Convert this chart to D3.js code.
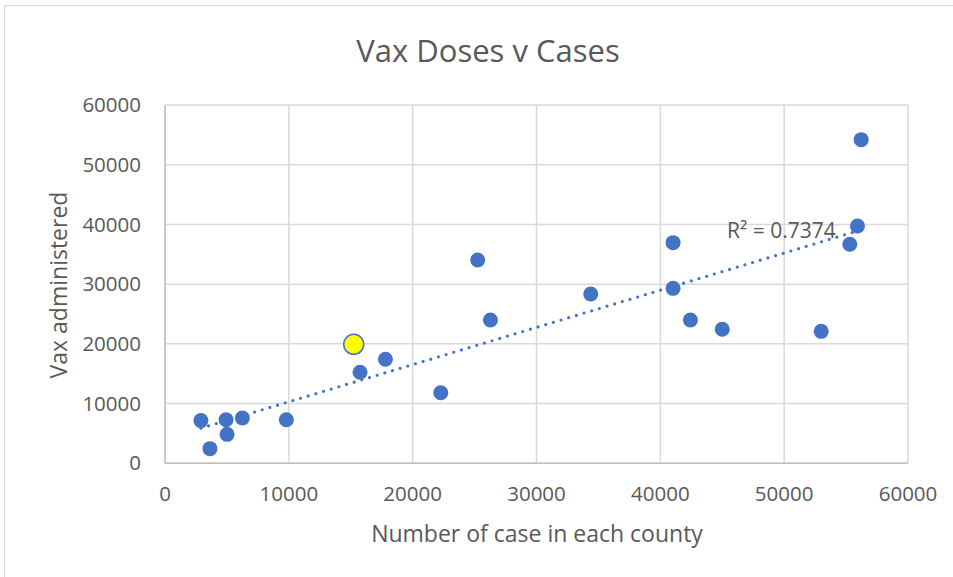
<!DOCTYPE html>
<html>
<head>
<meta charset="utf-8">
<script src="https://cdn.jsdelivr.net/npm/d3@7"></script>
<style>
  body { margin: 0; background: #fff; }
  svg text { font-family: "Open Sans", "Liberation Sans", sans-serif; fill: #595959; }
</style>
</head>
<body>
<div id="chart"></div>
<script>
// cases per county (x) and vaccine doses administered (y)
var cases = [2900, 3630, 4930, 5010, 6250, 9800, 15750, 17800, 22270, 25250,
             26280, 34380, 41030, 41030, 42430, 45000, 52990, 55300, 55920, 56220];
var vaxDoses = [7150, 2450, 7300, 4850, 7580, 7300, 15240, 17420, 11820, 34050,
                24000, 28350, 36950, 29300, 24000, 22440, 22100, 36670, 39730, 54200];
// the highlighted county
var highlightCase = [15240];
var highlightVax = [19930];

var xTicks = [0, 10000, 20000, 30000, 40000, 50000, 60000];
var yTicks = [0, 10000, 20000, 30000, 40000, 50000, 60000];

var titleText = 'Vax Doses v Cases';
var xTitle = 'Number of case in each county';
var yTitle = 'Vax administered';
var r2Label = 'R\u00b2 = 0.7374';

(function (d3) {
    var width = 953, height = 577,
        plot = { left: 165, right: 908, top: 105, bottom: 463.3 },
        blue = '#4472C4';

    var svg = d3.select('#chart').append('svg')
        .attr('width', width)
        .attr('height', height);

    // chart frame
    svg.append('rect')
        .attr('x', 4.5).attr('y', 5.5)
        .attr('width', width + 10).attr('height', height + 10)
        .attr('fill', '#fff')
        .attr('stroke', '#d9d9d9');

    var x = d3.scaleLinear().domain([0, 60000]).range([plot.left, plot.right]),
        y = d3.scaleLinear().domain([0, 60000]).range([plot.bottom, plot.top]);

    // gridlines
    svg.append('g').selectAll('line').data(xTicks).enter().append('line')
        .attr('x1', function (d) { return x(d); })
        .attr('x2', function (d) { return x(d); })
        .attr('y1', plot.top).attr('y2', plot.bottom)
        .attr('stroke', '#d9d9d9').attr('stroke-width', 1.5);
    svg.append('g').selectAll('line').data(yTicks).enter().append('line')
        .attr('y1', function (d) { return y(d); })
        .attr('y2', function (d) { return y(d); })
        .attr('x1', plot.left).attr('x2', plot.right)
        .attr('stroke', '#d9d9d9').attr('stroke-width', 1.5);

    // axis lines
    svg.append('line')
        .attr('x1', plot.left).attr('x2', plot.left)
        .attr('y1', plot.top).attr('y2', plot.bottom)
        .attr('stroke', '#bfbfbf').attr('stroke-width', 1.5);
    svg.append('line')
        .attr('x1', plot.left).attr('x2', plot.right)
        .attr('y1', plot.bottom).attr('y2', plot.bottom)
        .attr('stroke', '#bfbfbf').attr('stroke-width', 1.5);

    // tick labels
    svg.append('g').selectAll('text').data(yTicks).enter().append('text')
        .attr('x', 141)
        .attr('y', function (d) { return y(d); })
        .attr('dy', '0.35em')
        .attr('text-anchor', 'end')
        .style('font-size', '20.5px')
        .text(function (d) { return d; });
    svg.append('g').selectAll('text').data(xTicks).enter().append('text')
        .attr('x', function (d) { return x(d); })
        .attr('y', 501)
        .attr('text-anchor', 'middle')
        .style('font-size', '20.5px')
        .text(function (d) { return d; });

    // titles
    svg.append('text')
        .attr('x', 488).attr('y', 62)
        .attr('text-anchor', 'middle')
        .style('font-size', '31px')
        .text(titleText);
    svg.append('text')
        .attr('x', 537).attr('y', 542)
        .attr('text-anchor', 'middle')
        .style('font-size', '23px')
        .text(xTitle);
    svg.append('text')
        .attr('transform', 'translate(67,285) rotate(-90)')
        .attr('text-anchor', 'middle')
        .style('font-size', '23px')
        .text(yTitle);

    // least squares trendline
    var pts = cases.map(function (c, i) { return [c, vaxDoses[i]]; }),
        mx = d3.mean(pts, function (p) { return p[0]; }),
        my = d3.mean(pts, function (p) { return p[1]; }),
        sxy = d3.sum(pts, function (p) { return (p[0] - mx) * (p[1] - my); }),
        sxx = d3.sum(pts, function (p) { return (p[0] - mx) * (p[0] - mx); }),
        slope = sxy / sxx,
        icept = my - slope * mx,
        ext = d3.extent(cases);

    svg.append('line')
        .attr('x1', x(ext[0])).attr('y1', y(icept + slope * ext[0]))
        .attr('x2', x(ext[1])).attr('y2', y(icept + slope * ext[1]))
        .attr('stroke', blue)
        .attr('stroke-width', 3.2)
        .attr('stroke-linecap', 'round')
        .attr('stroke-dasharray', '0 8');

    // points
    svg.append('g').selectAll('circle').data(pts).enter().append('circle')
        .attr('cx', function (d) { return x(d[0]); })
        .attr('cy', function (d) { return y(d[1]); })
        .attr('r', 7.5)
        .attr('fill', blue);

    svg.append('g').selectAll('circle').data(highlightCase).enter().append('circle')
        .attr('cx', function (d) { return x(d); })
        .attr('cy', function (d, i) { return y(highlightVax[i]); })
        .attr('r', 10)
        .attr('fill', '#ffff00')
        .attr('stroke', blue)
        .attr('stroke-width', 1.5);

    svg.append('text')
        .attr('x', 727).attr('y', 238)
        .style('font-size', '21px')
        .text(r2Label);
}(window.d3));
</script>
</body>
</html>
